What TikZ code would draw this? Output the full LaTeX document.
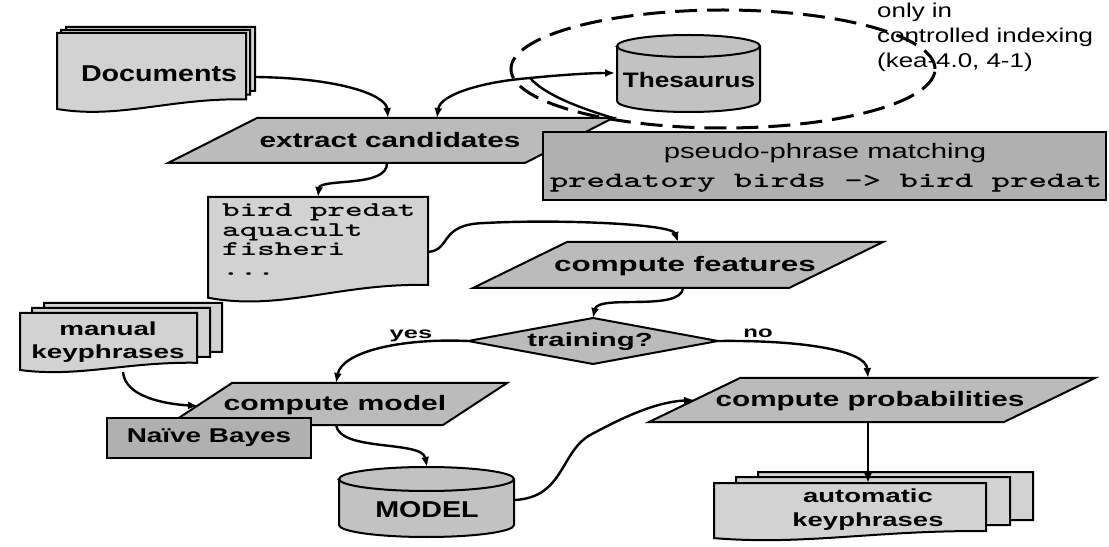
\documentclass[tikz,border=0pt]{standalone}
\usepackage{fontspec}
\setmainfont{Liberation Sans}
\usepackage{graphicx}
\usetikzlibrary{arrows.meta}

% horizontally widened label text: {xscale}{size}{line pitch}{text}
\newcommand{\wtxt}[4]{\scalebox{#1}[1]{\fontsize{#2}{#3}\selectfont #4}}

\definecolor{docfill}{HTML}{D2D2D2}
\definecolor{procfill}{HTML}{BBBBBB}
\definecolor{boxfill}{HTML}{B0B0B0}
\definecolor{cylfill}{HTML}{C2C2C2}

\tikzset{
  outline/.style={draw=black, line width=2bp, line join=miter},
  flow/.style={draw=black, line width=2.4bp, -{Latex[length=10bp,width=8bp]}},
  plainflow/.style={draw=black, line width=2.4bp},
  lbl/.style={inner sep=0pt, text=black},
}

% document sheet with wavy lower edge: {x1}{y1}{x2}{y2}{fill}
\newcommand{\docsheet}[5]{%
  \pgfmathsetmacro\shW{#3-#1}\pgfmathsetmacro\shH{#4-#2}%
  \filldraw[outline, fill=#5] (#1,#2) -- (#3,#2) -- (#3,{#4-0.17*\shH})
    .. controls ({#1+0.6*\shW},{#4-0.19*\shH}) and ({#1+0.33*\shW},{#4+0.08*\shH})
    .. (#1,{#4-0.05*\shH}) -- cycle;}

% storage cylinder: {x1}{y1}{x2}{y2}{end radius}{fill}
\newcommand{\cylshape}[6]{%
  \pgfmathsetmacro\cyRx{(#3-#1)/2}%
  \filldraw[outline, fill=#6] (#1,{#2+#5}) -- (#1,{#4-#5})
    arc[start angle=180, end angle=360, x radius=\cyRx bp, y radius=#5bp]
    -- (#3,{#2+#5})
    arc[start angle=0, end angle=180, x radius=\cyRx bp, y radius=#5bp] -- cycle;
  \draw[outline] (#1,{#2+#5})
    arc[start angle=180, end angle=360, x radius=\cyRx bp, y radius=#5bp];}

\begin{document}
\begin{tikzpicture}[x=1bp, y=-1bp]
\useasboundingbox (0,0) rectangle (1109,547);
\fill[white] (0,0) rectangle (1109,547);

% ---- controlled indexing area
\draw[line width=3bp, dash pattern=on 22bp off 10bp] (723,69) ellipse [x radius=212bp, y radius=59bp];
\node[lbl, anchor=north west] (note) at (877,0)
  {\wtxt{1.3}{20}{25}{\begin{tabular}{@{}l@{}}only in\\controlled indexing\\(kea-4.0, 4-1)\end{tabular}}};

\cylshape{617}{35}{760}{112}{11}{cylfill}
\node[lbl] (thes) at (689,80) {\wtxt{1.25}{21}{21}{\bfseries Thesaurus}};

% ---- input documents
\docsheet{66}{27}{255}{104}{docfill}
\docsheet{61}{30}{250}{108}{docfill}
\docsheet{57}{33}{246}{113}{docfill}
\node[lbl] (docs) at (159,74) {\wtxt{1.25}{23}{23}{\bfseries Documents}};

% ---- extract candidates
\filldraw[outline, fill=procfill] (168,163) -- (257,118) -- (613,118) -- (525,163) -- cycle;
\node[lbl] (extract) at (390,140) {\wtxt{1.42}{21}{21}{\bfseries extract candidates}};

\filldraw[outline, fill=boxfill] (543,132) rectangle (1106,200);
\node[lbl] (pseudo) at (825,153) {\wtxt{1.4}{21}{21}{pseudo-phrase matching}};
\node[lbl] (pseudoex) at (826,183) {\wtxt{1.6}{22}{22}{\ttfamily\bfseries predatory birds -> bird predat}};

% ---- candidate list
\docsheet{208}{197}{428}{303}{docfill}
\node[lbl, anchor=north west] (cands) at (222,202)
  {\wtxt{1.6}{21}{20}{\ttfamily\bfseries\begin{tabular}{@{}l@{}}bird predat\\aquacult\\fisheri\\...\end{tabular}}};

% ---- compute features
\filldraw[outline, fill=procfill] (473,288) -- (567,242) -- (883,242) -- (789,288) -- cycle;
\node[lbl] (features) at (685,266) {\wtxt{1.5}{21}{21}{\bfseries compute features}};

% ---- decision
\filldraw[outline, fill=procfill] (468,341) -- (593,318) -- (718,341) -- (593,364) -- cycle;
\node[lbl] (training) at (590,342) {\wtxt{1.55}{19}{19}{\bfseries training?}};

% ---- manual keyphrases
\docsheet{44}{303}{222}{362}{docfill}
\docsheet{32}{308}{210}{367}{docfill}
\docsheet{20}{313}{197}{373}{docfill}
\node[lbl] (manual) at (108,342)
  {\wtxt{1.47}{19}{23}{\bfseries\begin{tabular}{@{}c@{}}manual\\keyphrases\end{tabular}}};

% ---- compute model
\filldraw[outline, fill=procfill] (168,425) -- (232,383) -- (507,383) -- (443,425) -- cycle;
\node[lbl] (model) at (335,405) {\wtxt{1.44}{21}{21}{\bfseries compute model}};
\filldraw[outline, fill=boxfill] (107,418) rectangle (311,458);
\node[lbl] (bayes) at (209,438) {\wtxt{1.4}{20}{20}{\bfseries Naïve Bayes}};

% ---- model store
\cylshape{339}{467}{514}{537}{12}{cylfill}
\node[lbl] (store) at (427,510) {\wtxt{1.25}{23}{23}{\bfseries MODEL}};

% ---- compute probabilities
\filldraw[outline, fill=procfill] (649,422) -- (740,378) -- (1095,378) -- (1004,422) -- cycle;
\node[lbl] (probs) at (870,401) {\wtxt{1.42}{21}{21}{\bfseries compute probabilities}};

% ---- automatic keyphrases
\docsheet{758}{472}{1033}{530}{docfill}
\docsheet{736}{477}{1010}{535}{docfill}
\docsheet{714}{483}{986}{541}{docfill}
\node[lbl] (auto) at (868,510)
  {\wtxt{1.45}{19}{24}{\bfseries\begin{tabular}{@{}c@{}}automatic\\keyphrases\end{tabular}}};

% ---- branch labels
\node[lbl] (yes) at (411,336) {\wtxt{1.6}{16}{16}{\bfseries yes}};
\node[lbl] (no) at (758,333) {\wtxt{1.5}{16}{16}{\bfseries no}};

% ---- connector end points
\coordinate (docsOut) at (255,77);
\coordinate (extractInA) at (388,118);
\coordinate (extractInB) at (437,118);
\coordinate (extractCorner) at (613,118);
\coordinate (thesJoin) at (530,78);
\coordinate (thesIn) at (615,73);
\coordinate (extractOut) at (387,163);
\coordinate (candsIn) at (318,197);
\coordinate (candsOut) at (428,252);
\coordinate (featIn) at (678,242);
\coordinate (featOut) at (683,288);
\coordinate (trainIn) at (593,318);
\coordinate (trainYes) at (468,341);
\coordinate (trainNo) at (718,341);
\coordinate (modelIn) at (336,383);
\coordinate (modelSide) at (198,406);
\coordinate (manualOut) at (123,372);
\coordinate (modelOut) at (336,425);
\coordinate (storeIn) at (427,467);
\coordinate (storeOut) at (514,500);
\coordinate (probIn) at (694,400);
\coordinate (probInTop) at (868,378);
\coordinate (probOut) at (868,422);
\coordinate (autoIn) at (868,483);

% ---- connectors
\draw[flow] (docsOut) .. controls (340,78) and (386,95) .. (extractInA);
\draw[plainflow] (extractCorner) .. controls (580,108) and (545,95) .. (thesJoin);
\draw[flow] (thesJoin) .. controls (560,75) and (590,73) .. (thesIn);
\draw[flow] (thesJoin) .. controls (480,82) and (440,95) .. (extractInB);
\draw[flow] (extractOut) .. controls (388,188) and (320,178) .. (candsIn);
\draw[flow] (candsOut) .. controls (452,250) and (438,224) .. (485,223)
  .. controls (560,219) and (672,224) .. (featIn);
\draw[flow] (featOut) .. controls (681,312) and (598,294) .. (trainIn);
\draw[flow] (trainYes) .. controls (400,338) and (342,352) .. (modelIn);
\draw[flow] (trainNo) .. controls (800,340) and (866,350) .. (probInTop);
\draw[flow] (manualOut) .. controls (125,397) and (165,404) .. (modelSide);
\draw[flow] (modelOut) .. controls (340,452) and (422,440) .. (storeIn);
\draw[flow] (storeOut) .. controls (565,498) and (560,450) .. (592,434)
  .. controls (622,418) and (655,402) .. (probIn);
\draw[flow] (probOut) -- (autoIn);
\end{tikzpicture}
\end{document}
